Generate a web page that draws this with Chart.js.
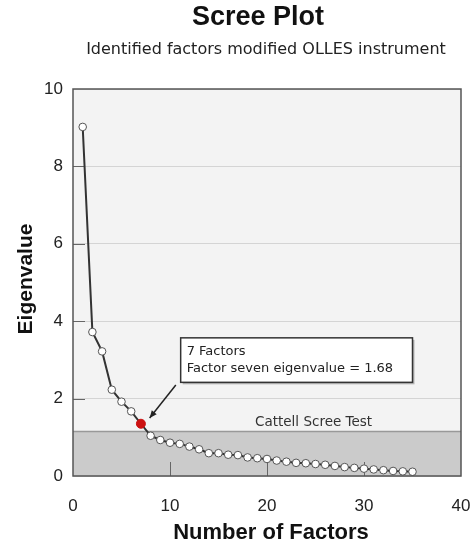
<!DOCTYPE html>
<html>
<head>
<meta charset="utf-8">
<script src="https://cdn.jsdelivr.net/npm/chart.js@4.4.1/dist/chart.umd.min.js"></script>
<style>
  html,body{margin:0;padding:0;background:#fff;}
  #wrap{width:474px;height:548px;}
</style>
</head>
<body>
<div id="wrap"><canvas id="chartScree"></canvas></div>
<script>
/* ==========================================
   DATA
========================================== */
const factors = [
  1,2,3,4,5,6,7,8,9,10,11,12,13,14,15,16,17,18,
  19,20,21,22,23,24,25,26,27,28,29,30,31,32,33,34,35
];

const eigenvalues = [
  9.02,3.72,3.22,2.23,1.92,1.67,1.35,1.04,0.93,0.86,0.83,0.76,0.69,0.59,0.59,0.55,0.54,0.48,
  0.46,0.44,0.40,0.37,0.34,0.33,0.31,0.29,0.26,0.23,0.21,0.19,0.17,0.15,0.13,0.12,0.11
];

const xTicks = [0,10,20,30,40];
const yTicks = [0,2,4,6,8,10];

const cattellCutoff = 1.15;
const highlightFactor = 7;

const titleText = "Scree Plot";
const subtitleText = "Identified factors modified OLLES instrument";
const bandLabel = "Cattell Scree Test";
const noteLines = ["7 Factors","Factor seven eigenvalue = 1.68"];

/* ==========================================
   DECOR PLUGIN
========================================== */
const FONT = "'Liberation Sans', Arial, Helvetica, sans-serif";
const FONT_LIGHT = "'DejaVu Sans', Verdana, sans-serif";

const screeDecor = {
  id:"screeDecor",

  beforeDraw(chart){
    const {ctx, chartArea:a, scales:{y}} = chart;
    ctx.save();
    ctx.fillStyle = "#f3f3f3";
    ctx.fillRect(a.left,a.top,a.right-a.left,a.bottom-a.top);

    const yb = y.getPixelForValue(cattellCutoff);
    ctx.fillStyle = "#cbcbcb";
    ctx.fillRect(a.left,yb,a.right-a.left,a.bottom-yb);
    ctx.restore();
  },

  beforeDatasetsDraw(chart){
    const {ctx, chartArea:a, scales:{x,y}} = chart;
    ctx.save();

    // inner ticks
    ctx.strokeStyle = "#666";
    ctx.lineWidth = 1;
    yTicks.slice(1,-1).forEach(v=>{
      const py = Math.round(y.getPixelForValue(v))+0.5;
      ctx.beginPath();
      ctx.moveTo(a.left,py);
      ctx.lineTo(a.left+12,py);
      ctx.stroke();
    });
    xTicks.slice(1,-1).forEach(v=>{
      const px = Math.round(x.getPixelForValue(v))+0.5;
      ctx.beginPath();
      ctx.moveTo(px,a.bottom);
      ctx.lineTo(px,a.bottom-14);
      ctx.stroke();
    });

    // band top line + label
    const yb = Math.round(y.getPixelForValue(cattellCutoff))+0.5;
    ctx.strokeStyle = "#999";
    ctx.lineWidth = 1.5;
    ctx.beginPath();
    ctx.moveTo(a.left,yb);
    ctx.lineTo(a.right,yb);
    ctx.stroke();

    ctx.fillStyle = "#333";
    ctx.font = "13.5px " + FONT_LIGHT;
    ctx.textAlign = "center";
    ctx.textBaseline = "bottom";
    ctx.fillText(bandLabel, x.getPixelForValue(24.8), yb-2);
    ctx.restore();
  },

  afterDatasetsDraw(chart){
    const {ctx, chartArea:a, scales:{x,y}} = chart;
    ctx.save();

    // plot border
    ctx.strokeStyle = "#555";
    ctx.lineWidth = 1.5;
    ctx.strokeRect(a.left,a.top,a.right-a.left,a.bottom-a.top);

    // note box
    const bx = x.getPixelForValue(11.1);
    const by = y.getPixelForValue(3.57);
    const bw = x.getPixelForValue(35.0) - bx;
    const bh = y.getPixelForValue(2.42) - by;

    ctx.fillStyle = "rgba(0,0,0,0.25)";
    ctx.fillRect(bx+2,by+2,bw,bh);
    ctx.fillStyle = "#fff";
    ctx.fillRect(bx,by,bw,bh);
    ctx.strokeStyle = "#333";
    ctx.lineWidth = 1.5;
    ctx.strokeRect(bx,by,bw,bh);

    ctx.fillStyle = "#222";
    ctx.font = "13px " + FONT_LIGHT;
    ctx.textAlign = "left";
    ctx.textBaseline = "middle";
    ctx.fillText(noteLines[0], bx+6, by+bh*0.31);
    ctx.fillText(noteLines[1], bx+6, by+bh*0.69);

    // arrow
    const x1 = x.getPixelForValue(10.6), y1 = y.getPixelForValue(2.35);
    const x2 = x.getPixelForValue(7.9),  y2 = y.getPixelForValue(1.5);
    ctx.strokeStyle = "#222";
    ctx.fillStyle = "#222";
    ctx.lineWidth = 1.5;
    ctx.beginPath();
    ctx.moveTo(x1,y1);
    ctx.lineTo(x2,y2);
    ctx.stroke();
    const ang = Math.atan2(y2-y1,x2-x1);
    ctx.beginPath();
    ctx.moveTo(x2,y2);
    ctx.lineTo(x2-8*Math.cos(ang-0.4), y2-8*Math.sin(ang-0.4));
    ctx.lineTo(x2-8*Math.cos(ang+0.4), y2-8*Math.sin(ang+0.4));
    ctx.closePath();
    ctx.fill();

    ctx.restore();
  },

  afterDraw(chart){
    const {ctx, chartArea:a} = chart;
    ctx.save();
    ctx.fillStyle = "#111";
    ctx.textAlign = "center";
    ctx.textBaseline = "middle";
    ctx.font = "bold 27px " + FONT;
    ctx.fillText(titleText, 258, 18);
    ctx.font = "16px " + FONT_LIGHT;
    ctx.fillStyle = "#222";
    ctx.fillText(subtitleText, 266, 50);

    ctx.font = "bold 22px " + FONT;
    ctx.fillStyle = "#111";
    ctx.fillText("Number of Factors", 271, 533);

    ctx.font = "bold 21px " + FONT;
    ctx.translate(26,279);
    ctx.rotate(-Math.PI/2);
    ctx.fillText("Eigenvalue",0,0);
    ctx.restore();
  }
};

/* ==========================================
   SCREE CHART
========================================== */
const points = factors.map((f,i)=>({x:f, y:eigenvalues[i]}));

new Chart(
  document.getElementById("chartScree"),
  {
    type:"line",
    data:{
      datasets:[
        {
          label:"Eigenvalue",
          data:points,
          borderColor:"#333",
          borderWidth:2,
          tension:0,
          pointRadius:points.map(p=>p.x===highlightFactor?4.5:3.8),
          pointBackgroundColor:points.map(p=>p.x===highlightFactor?"#cc1111":"#fff"),
          pointBorderColor:points.map(p=>p.x===highlightFactor?"#cc1111":"#555"),
          pointBorderWidth:1
        }
      ]
    },
    options:{
      responsive:true,
      maintainAspectRatio:false,
      animation:false,
      layout:{
        padding:{top:89,right:13,bottom:0,left:0}
      },
      plugins:{
        legend:{display:false},
        tooltip:{enabled:false}
      },
      scales:{
        x:{
          type:"linear",
          min:0,
          max:40,
          afterBuildTicks:s=>{ s.ticks = xTicks.map(v=>({value:v})); },
          afterFit:s=>{
            s.height = 72;
            s.paddingLeft = 0;
            s.paddingRight = 0;
          },
          grid:{display:false},
          border:{display:false},
          ticks:{
            padding:12,
            color:"#222",
            font:{family:FONT,size:17}
          }
        },
        y:{
          type:"linear",
          min:0,
          max:10,
          afterBuildTicks:s=>{ s.ticks = yTicks.map(v=>({value:v})); },
          afterFit:s=>{
            s.width = 73;
            s.paddingTop = 0;
            s.paddingBottom = 0;
          },
          grid:{
            color:"#d4d4d4",
            lineWidth:1,
            drawTicks:false
          },
          border:{display:false},
          ticks:{
            padding:10,
            color:"#222",
            font:{family:FONT,size:17}
          }
        }
      }
    },
    plugins:[screeDecor]
  }
);
</script>
</body>
</html>
